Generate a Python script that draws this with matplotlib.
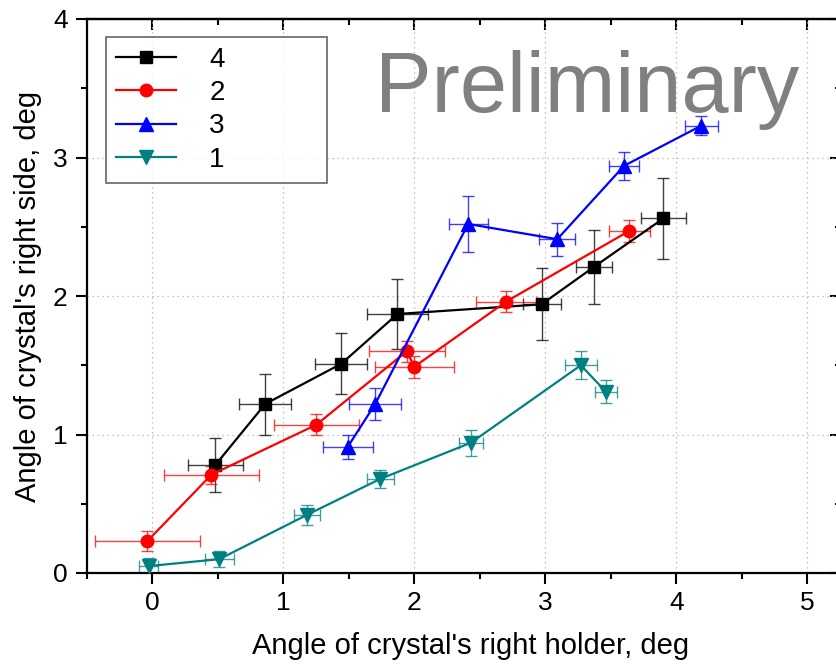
import matplotlib
matplotlib.use("Agg")
import matplotlib.pyplot as plt
from matplotlib.ticker import MultipleLocator

plt.rcParams['font.family'] = ['Liberation Sans', 'DejaVu Sans']

# Series 4 (black squares)
x4 = [0.48, 0.86, 1.44, 1.87, 2.97, 3.37, 3.90]
y4 = [0.78, 1.22, 1.51, 1.87, 1.94, 2.21, 2.56]
xe4 = [0.21, 0.20, 0.20, 0.23, 0.145, 0.14, 0.17]
ye4 = [0.195, 0.22, 0.22, 0.25, 0.26, 0.265, 0.295]

# Series 2 (red circles)
x2 = [-0.04, 0.45, 1.25, 1.94, 2.00, 2.70, 3.64]
y2 = [0.23, 0.71, 1.07, 1.60, 1.49, 1.96, 2.47]
xe2 = [0.40, 0.365, 0.325, 0.29, 0.30, 0.227, 0.157]
ye2 = [0.07, 0.065, 0.075, 0.075, 0.08, 0.078, 0.078]

# Series 3 (blue up-triangles)
x3 = [1.49, 1.70, 2.41, 3.09, 3.60, 4.19]
y3 = [0.91, 1.22, 2.52, 2.41, 2.94, 3.23]
xe3 = [0.19, 0.20, 0.148, 0.137, 0.115, 0.127]
ye3 = [0.09, 0.115, 0.20, 0.118, 0.10, 0.07]

# Series 1 (teal down-triangles)
x1 = [-0.03, 0.51, 1.18, 1.74, 2.43, 3.27, 3.46]
y1 = [0.05, 0.10, 0.42, 0.68, 0.94, 1.50, 1.31]
xe1 = [0.075, 0.112, 0.098, 0.105, 0.093, 0.12, 0.084]
ye1 = [0.06, 0.06, 0.07, 0.065, 0.096, 0.10, 0.085]

series = [
    ("4", x4, y4, xe4, ye4, "black", "s", 8),
    ("2", x2, y2, xe2, ye2, "#ff0000", "o", 9),
    ("3", x3, y3, xe3, ye3, "#0000ff", "^", 9.5),
    ("1", x1, y1, xe1, ye1, "#008080", "v", 9.5),
]

fig = plt.figure(figsize=(8.36, 6.67), dpi=100)
W, H = 836, 667
left, right, bottom, top = 87, 841, 573, 19
ax = fig.add_axes([left / W, (H - bottom) / H, (right - left) / W, (bottom - top) / H])

handles = []
for lab, xs, ys, xe, ye, col, mk, ms in series:
    ax.errorbar(xs, ys, xerr=xe, yerr=ye, fmt='none', ecolor=col, alpha=0.75,
                elinewidth=1.0, capsize=4, capthick=1.0, zorder=2)
    h, = ax.plot(xs, ys, color=col, marker=mk, markersize=ms, linewidth=1.6,
                 label=lab, zorder=3)
    handles.append(h)

ax.set_xlim(-0.5, 5.256)
ax.set_ylim(0, 4)
ax.xaxis.set_major_locator(MultipleLocator(1))
ax.xaxis.set_minor_locator(MultipleLocator(0.5))
ax.yaxis.set_major_locator(MultipleLocator(1))
ax.yaxis.set_minor_locator(MultipleLocator(0.5))

ax.grid(True, which='major', color='#b0b0b0', linestyle=(0, (1, 3)), linewidth=0.9)
ax.set_axisbelow(True)

for s in ax.spines.values():
    s.set_linewidth(1.6)
ax.tick_params(which='both', width=1.5, labelsize=19)
ax.tick_params(axis='x', which='major', bottom=True, top=False, direction='out', length=8, pad=5)
ax.tick_params(axis='y', which='major', left=True, right=False, direction='out', length=8, pad=6)
ax.tick_params(axis='x', which='minor', bottom=True, direction='out', length=4.5)
ax.tick_params(axis='y', which='minor', left=True, direction='out', length=4.5)
# inward ticks on the top and right
sec_x = ax.secondary_xaxis('top')
sec_x.xaxis.set_major_locator(MultipleLocator(1))
sec_x.xaxis.set_minor_locator(MultipleLocator(0.5))
sec_x.tick_params(which='major', direction='in', length=8, width=1.5, labeltop=False)
sec_x.tick_params(which='minor', direction='in', length=4.5, width=1.5)
sec_x.spines['top'].set_linewidth(1.6)
sec_y = ax.secondary_yaxis('right')
sec_y.yaxis.set_major_locator(MultipleLocator(1))
sec_y.yaxis.set_minor_locator(MultipleLocator(0.5))
sec_y.tick_params(which='major', direction='in', length=8, width=1.5, labelright=False)
sec_y.tick_params(which='minor', direction='in', length=4.5, width=1.5)

ax.set_xlabel("Angle of crystal's right holder, deg", fontsize=21)
ax.xaxis.set_label_coords((471 - left) / (right - left), -(632 - bottom) / (bottom - top))
ax.set_ylabel("Angle of crystal's right side, deg", fontsize=21, labelpad=8)

ax.text(1.695, 3.33, "Preliminary", fontsize=61, color='#808080',
        ha='left', va='baseline', zorder=1)

# legend box placed in pixel coordinates of the reference
lx0, ly0, lx1, ly1 = 106, 37, 327, 177
bbox = ((lx0 - left) / (right - left), 1 - (ly1 - top) / (bottom - top),
        (lx1 - lx0) / (right - left), (ly1 - ly0) / (bottom - top))
leg = ax.legend(handles=handles, loc='upper left', bbox_to_anchor=bbox, mode='expand',
                fontsize=20, frameon=True, fancybox=False, edgecolor='#404040',
                handlelength=2.16, handletextpad=1.2, labelspacing=0.26,
                borderpad=0.36, borderaxespad=0)
leg.get_frame().set_linewidth(1.2)

fig.savefig("out.png", dpi=100)
